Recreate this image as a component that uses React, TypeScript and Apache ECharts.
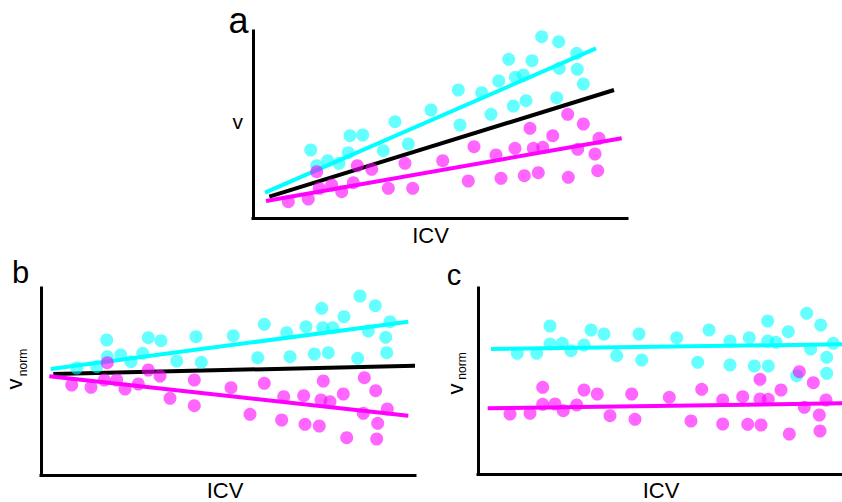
import React, { useEffect, useRef } from "react";
import * as echarts from "echarts";

// Panel a (v vs ICV), arbitrary units
const aCyan: [number, number][] = [
  [57.7, 68], [63.7, 52.3], [74.7, 57.3], [86, 54.7], [95.3, 65.3], [97, 82.3], [109.7, 83],
  [130.3, 67.3], [142, 96.3], [155.3, 74], [178, 108], [205.3, 128], [207, 93], [228.7, 125.3],
  [238, 103.7], [245.7, 137], [255.7, 158.7], [260.3, 112], [262.3, 140.7], [270.3, 143],
  [273, 117.3], [279, 157.3], [288.7, 181.3], [303.7, 120.3], [305.7, 176.3], [306.3, 149.7],
  [323.7, 164.7], [324.3, 148.7], [330.3, 134],
];
const aMagenta: [number, number][] = [
  [35.3, 16.3], [55.3, 19], [63.7, 46.3], [66.3, 29.7], [78.7, 33], [88.7, 26.3], [100.3, 35.3],
  [104.3, 52.3], [118.7, 48.7], [135.3, 29.7], [152, 54.7], [159.7, 29.7], [189.7, 57.3],
  [215.3, 37], [221, 71.3], [243, 63], [248, 39.7], [262, 69.7], [271.3, 42.3], [277, 89.7],
  [280.3, 69.7], [285.3, 45.3], [289.7, 70.7], [299.7, 82.3], [314.7, 103.7], [315.3, 40.7],
  [324.7, 68.7], [330.3, 94], [342, 64], [344.7, 47.3], [346, 79.7],
];
const aFitCyan: [number, number][] = [[12, 25.3], [343, 169.7]];
const aFitBlack: [number, number][] = [[16.3, 21.3], [361, 128]];
const aFitMagenta: [number, number][] = [[13, 17], [368.7, 79.7]];

// Panel b (v_norm vs ICV)
const bCyan: [number, number][] = [
  [35.7, 107], [55.7, 108.3], [65.7, 135], [66.3, 118.3], [79.7, 120], [90, 113.3], [101.7, 121.7],
  [107.3, 137.3], [120, 134.3], [135.7, 114], [155, 138.3], [160.3, 112.7], [192.3, 139.3],
  [216.7, 117.3], [223.3, 150.7], [245.7, 142.3], [249, 118.3], [265, 148.3], [273.3, 121],
  [280.7, 166.7], [281.7, 147.3], [287.3, 122.3], [291.7, 147.3], [303, 158.3], [316.7, 116.7],
  [319, 179], [327.3, 144], [334.3, 169.3], [344.7, 137.7], [345.7, 122.3], [349, 153.3],
];
const bMagenta: [number, number][] = [
  [30.7, 90], [50, 87.7], [63.3, 95], [66.3, 112.3], [75.7, 95], [84, 86], [97.3, 91],
  [107.3, 105], [119, 99], [129, 76.7], [153.3, 95], [153.3, 69.3], [190, 87.3], [209, 60.7],
  [223.3, 91.7], [240.7, 55], [242.7, 78.3], [262.7, 79.3], [264, 50.7], [278.3, 49], [280, 75],
  [282.3, 94], [289, 73.3], [302.3, 81], [305.7, 37.3], [322.3, 61.7], [323.3, 97.3],
  [334.7, 84.3], [335.7, 36], [336.7, 51.7], [346.3, 66],
];
const bFitCyan: [number, number][] = [[9.7, 106], [367.3, 153.3]];
const bFitBlack: [number, number][] = [[12.3, 101], [374, 109.3]];
const bFitMagenta: [number, number][] = [[8.3, 98.7], [367.3, 59.3]];

// Panel c (v_norm vs ICV)
const cCyan: [number, number][] = [
  [39.3, 120.7], [58.7, 120.7], [72, 148], [72, 130], [84.3, 130.7], [93, 123.3], [106, 129],
  [113, 144], [126, 140], [138.7, 118.3], [161, 140], [163.7, 114], [198.7, 136.3], [219.7, 111.7],
  [231, 144], [252, 133], [252, 109], [271.3, 136.3], [276.3, 108], [289.7, 153], [289.7, 133],
  [290.3, 108], [298, 131.7], [310.3, 142.3], [318.7, 98.3], [328.7, 160.7], [332.7, 125],
  [342.7, 149], [348.7, 116.7], [348.7, 100.7], [355.3, 130.7],
];
const cMagenta: [number, number][] = [
  [32, 60], [52, 60.7], [64.7, 86.7], [64.7, 69.7], [77, 70], [85.3, 63.3], [98.7, 69], [106, 84],
  [119.3, 80], [132, 58.3], [153.7, 80], [157, 54.7], [191.3, 76.7], [213, 53], [223.7, 84.7],
  [244.7, 74], [244.7, 50], [264.7, 77.3], [269.7, 49.7], [282, 94.7], [282, 75], [283, 49],
  [290.3, 74.7], [303, 84], [311.3, 40], [321.3, 102.3], [326.3, 66.7], [335.3, 91.3],
  [341.3, 59], [342, 43], [348, 74],
];
const cFitCyan: [number, number][] = [[13, 125], [374, 129.8]];
const cFitMagenta: [number, number][] = [[9.7, 65.7], [374, 70.8]];

const panelLetters = ["a", "b", "c"];
const xAxisName = "ICV";
const yNameA = "v";
const yNameNorm = ["v", "norm"];

const FONT = "'Liberation Sans', Arial, sans-serif";
const CYAN = "#00FFFF";
const MAGENTA = "#FF00FF";
const CYAN_DOT = "rgba(0,255,255,0.75)";
const MAGENTA_DOT = "rgba(255,0,255,0.75)";

function axisCommon(max: number, gridIndex: number) {
  return {
    type: "value" as const,
    gridIndex,
    min: 0,
    max,
    axisLine: { show: true, onZero: false, lineStyle: { color: "#000", width: 3, cap: "square" } },
    axisTick: { show: false },
    axisLabel: { show: false },
    splitLine: { show: false },
  };
}

function lineSeries(data: [number, number][], color: string, idx: number) {
  return {
    type: "line" as const,
    xAxisIndex: idx,
    yAxisIndex: idx,
    data,
    showSymbol: false,
    symbol: "none",
    lineStyle: { color, width: 4 },
    z: 2,
    silent: true,
  };
}

function scatterSeries(data: [number, number][], color: string, idx: number) {
  return {
    type: "scatter" as const,
    xAxisIndex: idx,
    yAxisIndex: idx,
    data,
    symbolSize: 13,
    itemStyle: { color },
    z: 3,
    silent: true,
  };
}

function text(x: number, y: number, t: string, size: number, rotation = 0) {
  return {
    type: "text",
    x,
    y,
    rotation,
    silent: true,
    style: {
      text: t,
      fontSize: size,
      fontFamily: FONT,
      fill: "#000",
      align: "center",
      verticalAlign: "middle",
    },
  };
}

export default function App() {
  const ref = useRef<HTMLDivElement>(null);
  useEffect(() => {
    if (!ref.current) return;
    const chart = echarts.init(ref.current, undefined, { renderer: "svg" });
    const grid = (left: number, top: number, height: number) => ({
      left,
      top,
      width: 374,
      height,
      outerBoundsMode: "none",
      containLabel: false,
    });
    chart.setOption({
      animation: false,
      backgroundColor: "#fff",
      grid: [grid(253, 31, 187), grid(41, 288, 187), grid(478, 288, 186)],
      xAxis: [axisCommon(374, 0), axisCommon(374, 1), axisCommon(374, 2)],
      yAxis: [axisCommon(187, 0), axisCommon(187, 1), axisCommon(186, 2)],
      series: [
        lineSeries(aFitCyan, CYAN, 0),
        lineSeries(aFitBlack, "#000", 0),
        lineSeries(aFitMagenta, MAGENTA, 0),
        scatterSeries(aCyan, CYAN_DOT, 0),
        scatterSeries(aMagenta, MAGENTA_DOT, 0),
        lineSeries(bFitCyan, CYAN, 1),
        lineSeries(bFitBlack, "#000", 1),
        lineSeries(bFitMagenta, MAGENTA, 1),
        scatterSeries(bCyan, CYAN_DOT, 1),
        scatterSeries(bMagenta, MAGENTA_DOT, 1),
        lineSeries(cFitCyan, CYAN, 2),
        lineSeries(cFitMagenta, MAGENTA, 2),
        scatterSeries(cCyan, CYAN_DOT, 2),
        scatterSeries(cMagenta, MAGENTA_DOT, 2),
      ],
      graphic: [
        text(238.5, 20, panelLetters[0], 36),
        text(20.5, 272.5, panelLetters[1], 31),
        text(454, 274.5, panelLetters[2], 29),
        text(237.7, 121.5, yNameA, 21),
        text(430.5, 235.5, xAxisName, 22),
        text(225, 490.5, xAxisName, 22),
        text(661, 490.5, xAxisName, 22),
        text(14.5, 384, yNameNorm[0], 22, Math.PI / 2),
        text(22.5, 362.5, yNameNorm[1], 12, Math.PI / 2),
        text(455.5, 389, yNameNorm[0], 22, Math.PI / 2),
        text(462, 366, yNameNorm[1], 12, Math.PI / 2),
      ],
    });
    return () => chart.dispose();
  }, []);
  return (
    <div
      ref={ref}
      style={{ position: "fixed", left: 0, top: 0, width: 842, height: 502, background: "#fff" }}
    />
  );
}
